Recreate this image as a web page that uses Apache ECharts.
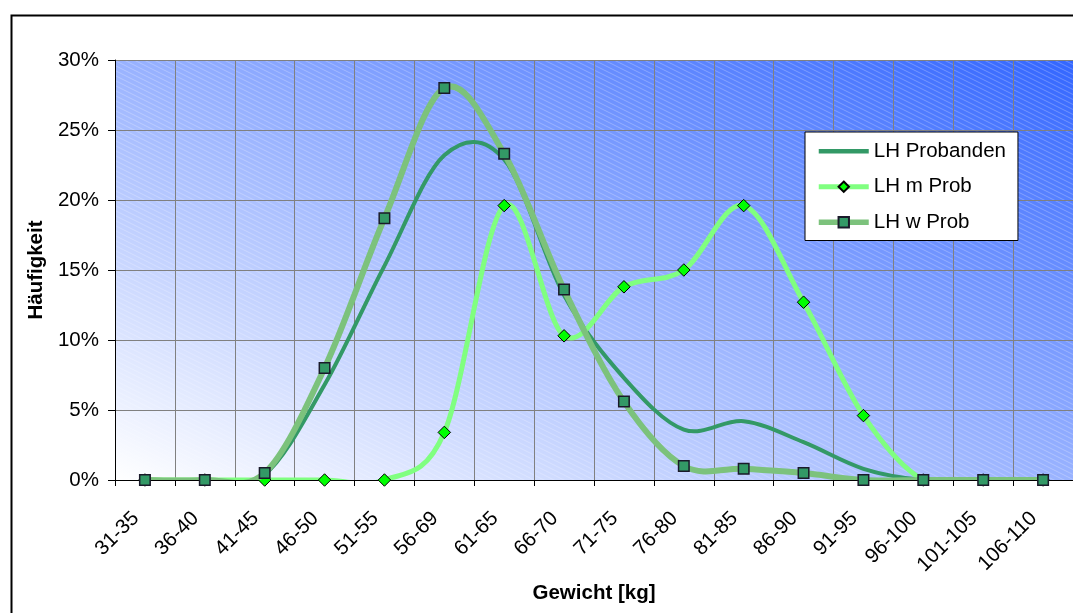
<!DOCTYPE html>
<html>
<head>
<meta charset="utf-8">
<script src="https://cdn.jsdelivr.net/npm/echarts@6/dist/echarts.min.js"></script>
<style>
html,body{margin:0;padding:0;background:#fff;}
#chart{width:1073px;height:613px;}
</style>
</head>
<body>
<div id="chart"></div>
<script>
// ---- data (percent) ----
const categories = ['31-35','36-40','41-45','46-50','51-55','56-69','61-65','66-70','71-75','76-80','81-85','86-90','91-95','96-100','101-105','106-110'];
const lhProbanden = [0, 0, 0.4, 6.8, 15.3, 23.2, 22.9, 13.2, 7.3, 3.6, 4.2, 2.7, 0.8, 0, 0, 0];
const lhMProb     = [0, 0, 0, 0, 0, 3.4, 19.6, 10.3, 13.8, 15.0, 19.6, 12.7, 4.6, 0, 0, 0];
const lhWProb     = [0, 0, 0.5, 8.0, 18.7, 28.0, 23.3, 13.6, 5.6, 1.0, 0.8, 0.5, 0, 0, 0, 0];
const yTicks = [0, 5, 10, 15, 20, 25, 30];
const seriesNames = ['LH Probanden', 'LH m Prob', 'LH w Prob'];

const COL_PROB = '#339966';
const COL_M_LINE = '#80ff80', COL_M_MARK = '#00ff00';
const COL_W_LINE = '#7cc27c', COL_W_MARK = '#339966';

// ---- plot background (gradient + faint diagonal stripes) ----
const PW = 960, PH = 420;
function makeBg(w, h) {
  const c = document.createElement('canvas');
  c.width = w; c.height = h;
  const ctx = c.getContext('2d');
  ctx.save();
  ctx.scale(w, h);
  const g = ctx.createLinearGradient(0, 1, 1, 0);
  g.addColorStop(0, '#ffffff');
  g.addColorStop(1, '#3366ff');
  ctx.fillStyle = g;
  ctx.fillRect(0, 0, 1, 1);
  ctx.restore();
  ctx.strokeStyle = 'rgba(255,255,255,0.25)';
  ctx.lineWidth = 1;
  for (let k = -w * 0.5; k < h + 5; k += 5) {
    ctx.beginPath();
    ctx.moveTo(0, k + 0.5);
    ctx.lineTo(w, k + 0.5 + w * 0.5);
    ctx.stroke();
  }
  return c;
}
const bgCanvas = makeBg(PW, PH);

// Catmull-Rom style smoothing (like the spreadsheet's smoothed line), in pixel space
function curvePath(pts) {
  let d = 'M' + pts[0][0] + ',' + pts[0][1];
  const n = pts.length;
  for (let i = 0; i < n - 1; i++) {
    const p0 = pts[Math.max(i - 1, 0)], p1 = pts[i], p2 = pts[i + 1], p3 = pts[Math.min(i + 2, n - 1)];
    const c1x = p1[0] + (p2[0] - p0[0]) / 6, c1y = p1[1] + (p2[1] - p0[1]) / 6;
    const c2x = p2[0] - (p3[0] - p1[0]) / 6, c2y = p2[1] - (p3[1] - p1[1]) / 6;
    d += ' C' + c1x + ',' + c1y + ' ' + c2x + ',' + c2y + ' ' + p2[0] + ',' + p2[1];
  }
  return d;
}
function curveSeries(name, values, color, width, z) {
  return {
    type: 'custom', name: name + ' (Kurve)', coordinateSystem: 'cartesian2d',
    data: [0], z: z, silent: true, clip: true,
    renderItem: function (params, api) {
      const pts = values.map(function (v, i) { return api.coord([i, v]); });
      return {
        type: 'path',
        shape: {pathData: curvePath(pts)},
        style: {fill: 'none', stroke: color, lineWidth: width, lineJoin: 'round', lineCap: 'butt'}
      };
    }
  };
}

const FONT = "'Liberation Sans', Arial, sans-serif";
const FS = 20.5;
const chart = echarts.init(document.getElementById('chart'), null, {renderer: 'canvas'});

chart.setOption({
  animation: false,
  backgroundColor: '#ffffff',
  textStyle: {fontFamily: FONT, color: '#000'},
  graphic: [
    {type: 'image', left: 115, top: 60, z: -1, silent: true,
     style: {image: bgCanvas, width: PW, height: PH}},
    {type: 'rect', silent: true, z: 10,
     shape: {x: 11.5, y: 15.5, width: 1200, height: 800},
     style: {fill: 'none', stroke: '#000', lineWidth: 2}}
  ],
  grid: {left: 115, top: 60, width: PW, height: PH, containLabel: false},
  legend: {
    orient: 'vertical',
    left: 805, top: 132,
    backgroundColor: '#ffffff',
    borderColor: '#000', borderWidth: 1,
    padding: [8, 12, 7, 11],
    itemWidth: 50, itemHeight: 13, itemGap: 13,
    symbolKeepAspect: true,
    textStyle: {fontFamily: FONT, fontSize: FS, color: '#000', lineHeight: 22.5},
    data: [
      {name: seriesNames[0], icon: 'path://M0,0L50,0L50,4.5L0,4.5Z', itemStyle: {color: COL_PROB}},
      {name: seriesNames[1], lineStyle: {color: COL_M_LINE, width: 5, opacity: 1}},
      {name: seriesNames[2], lineStyle: {color: COL_W_LINE, width: 5.5, opacity: 1}}
    ]
  },
  xAxis: {
    type: 'category',
    data: categories,
    boundaryGap: true,
    name: 'Gewicht [kg]',
    nameLocation: 'middle',
    nameGap: 102,
    nameTextStyle: {fontFamily: FONT, fontSize: FS, fontWeight: 'bold', color: '#000'},
    axisLine: {lineStyle: {color: '#000', width: 1}},
    axisTick: {show: true, length: 6, lineStyle: {color: '#000'}, interval: 0},
    axisLabel: {rotate: 45, margin: 26, interval: 0, padding: [0, 13, 0, 0], fontFamily: FONT, fontSize: FS, color: '#000'},
    splitLine: {show: true, interval: 0, lineStyle: {color: '#808080', width: 1}}
  },
  yAxis: {
    type: 'value',
    min: yTicks[0], max: yTicks[yTicks.length - 1], interval: 5,
    name: 'Häufigkeit',
    nameLocation: 'middle',
    nameGap: 67,
    nameTextStyle: {fontFamily: FONT, fontSize: FS, fontWeight: 'bold', color: '#000'},
    axisLine: {show: true, lineStyle: {color: '#000', width: 1}},
    axisTick: {show: true, length: 7, lineStyle: {color: '#000'}},
    axisLabel: {formatter: '{value}%', margin: 16, fontFamily: FONT, fontSize: FS, color: '#000'},
    splitLine: {show: true, lineStyle: {color: '#808080', width: 1}}
  },
  series: [
    // smoothed curves (drawn through the axes' scales)
    curveSeries(seriesNames[0], lhProbanden, COL_PROB, 4, 2),
    curveSeries(seriesNames[1], lhMProb, COL_M_LINE, 5, 3),
    curveSeries(seriesNames[2], lhWProb, COL_W_LINE, 6, 5),
    // markers + legend entries
    {
      name: seriesNames[0], type: 'line', data: lhProbanden,
      symbol: 'none', color: COL_PROB,
      lineStyle: {color: COL_PROB, width: 4, opacity: 0}, z: 1
    },
    {
      name: seriesNames[1], type: 'line', data: lhMProb,
      symbol: 'diamond', symbolSize: 12.5, showAllSymbol: true,
      itemStyle: {color: COL_M_MARK, borderColor: '#000', borderWidth: 1},
      lineStyle: {color: COL_M_LINE, width: 5, opacity: 0}, z: 4
    },
    {
      name: seriesNames[2], type: 'line', data: lhWProb,
      symbol: 'rect', symbolSize: 10.5, showAllSymbol: true,
      itemStyle: {color: COL_W_MARK, borderColor: '#1a1a2a', borderWidth: 1.5},
      lineStyle: {color: COL_W_LINE, width: 6, opacity: 0}, z: 6
    }
  ]
});
</script>
</body>
</html>
